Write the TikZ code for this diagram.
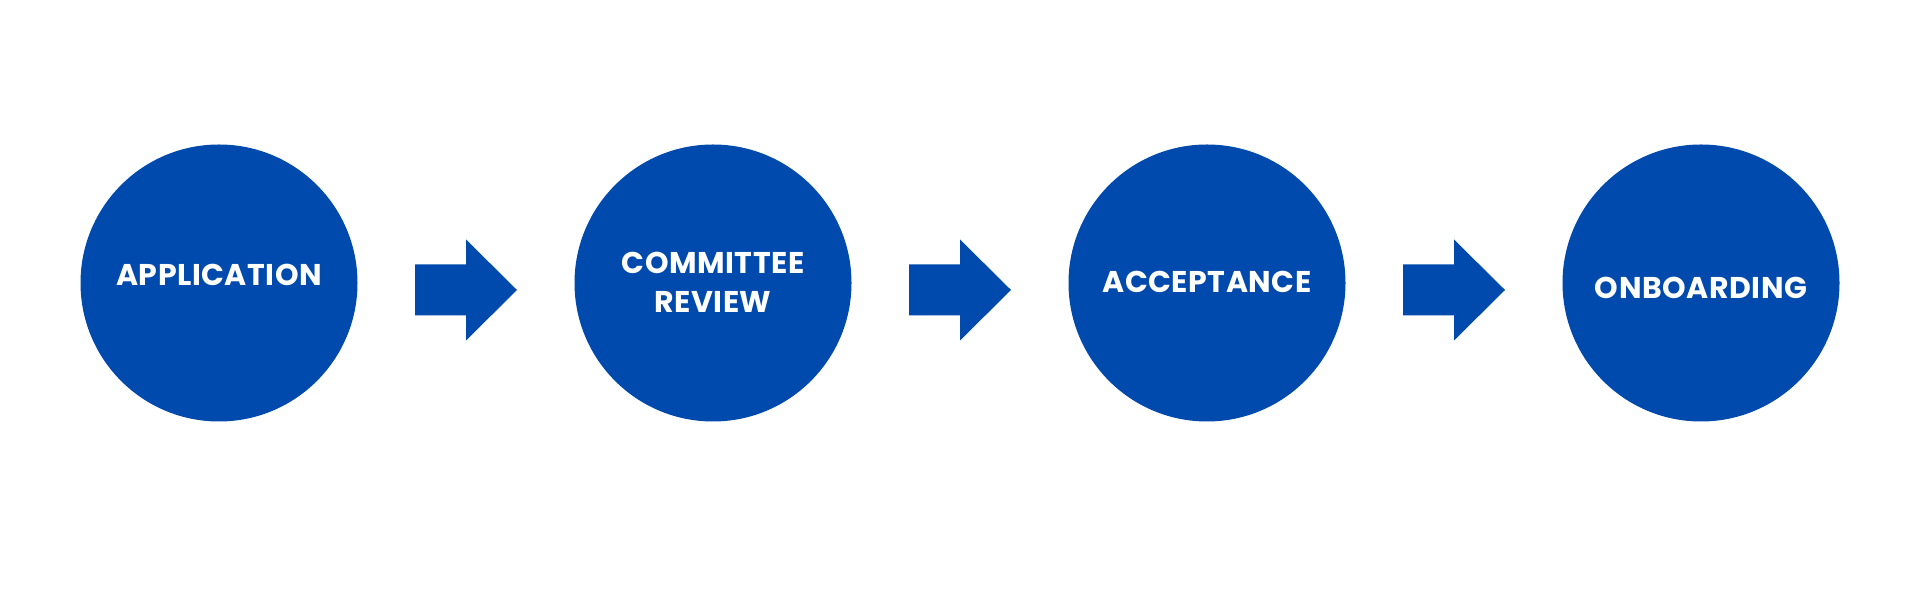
\documentclass[tikz,border=0pt]{standalone}
\usepackage{fontspec}
\setmainfont{Poppins}
\definecolor{stepblue}{HTML}{004AAD}
\begin{document}
\begin{tikzpicture}[x=1pt,y=1pt,
  stepcircle/.style={circle,fill=stepblue,minimum size=277pt,inner sep=0pt},
  steplabel/.style={text=white,font=\fontsize{30}{39}\selectfont\bfseries\addfontfeature{LetterSpace=1.8},align=center},
  steparrow/.style={fill=stepblue}]
\useasboundingbox (0,0) rectangle (1920,615);
\foreach \i/\x in {1/219,2/713,3/1207,4/1701}{
  \node[stepcircle] (c\i) at (\x,332) {};
}
\node[steplabel] (t1) at (219,340) {APPLICATION};
\node[steplabel] (t2) at (713,332.5) {COMMITTEE\\REVIEW};
\node[steplabel] (t3) at (1207,333) {ACCEPTANCE};
\node[steplabel] (t4) at (1701,327) {ONBOARDING};
\foreach \i/\x in {1/415,2/909,3/1403}{
  \coordinate (a\i) at (\x,325);
  \fill[steparrow] (a\i) ++(0,25.5) -- ++(51,0) -- ++(0,25) -- ++(51,-50.5) -- ++(-51,-50.5) -- ++(0,25) -- ++(-51,0) -- cycle;
}
\end{tikzpicture}
\end{document}
